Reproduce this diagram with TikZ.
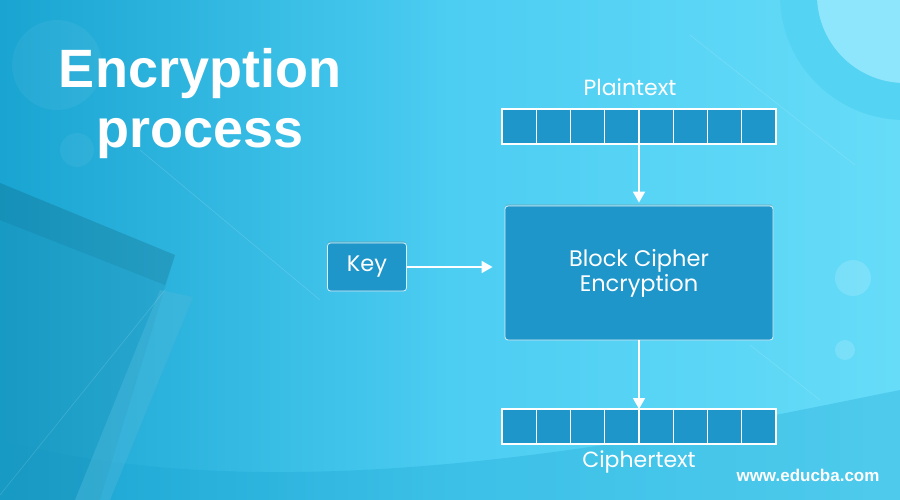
\documentclass[tikz,border=0pt]{standalone}
\usepackage{fontspec}
\setmainfont{Poppins}
\newfontfamily\headfont{Liberation Sans}
\usetikzlibrary{arrows.meta,shadows}
\definecolor{bgdark}{HTML}{19A4D1}
\definecolor{bgmid}{HTML}{4CCDF2}
\definecolor{bglight}{HTML}{66DCF8}
\definecolor{boxblue}{HTML}{1E96CA}
\definecolor{ringblue}{HTML}{55D3F3}
\definecolor{discblue}{HTML}{8EE6FD}
\tikzstyle{cell}=[draw=white,line width=1.2pt,fill=boxblue,minimum width=34.25pt,minimum height=35pt,inner sep=0pt,outer sep=0pt]
\tikzstyle{block}=[draw=white!85!boxblue,line width=0.8pt,fill=boxblue,rounded corners=3pt,text=white,align=center,font=\fontsize{22.5}{25}\selectfont,drop shadow={opacity=0.2,shadow xshift=0pt,shadow yshift=2pt}]
\tikzstyle{label}=[text=white,font=\fontsize{22}{25}\selectfont]
\tikzstyle{edge} = [draw=white,line width=1.8pt,-{Triangle[length=11pt,width=12pt]}]
\begin{document}
\begin{tikzpicture}[x=1pt,y=-1pt]
    \useasboundingbox (0,0) rectangle (900,500);
    % background and decoration
    \begin{scope}
    \clip (0,0) rectangle (900,500);
    \shade[left color=bgdark,right color=bglight,middle color=bgmid] (0,0) rectangle (900,500);
    \fill[bgdark,opacity=0.3] (0,500) -- (0,440) .. controls (300,520) and (700,430) .. (900,390) -- (900,500) -- cycle;
    \fill[ringblue] (905,-5) circle (125);
    \fill[discblue] (905,-5) circle (88);
    \fill[white,opacity=0.15] (853,278) circle (18);
    \fill[white,opacity=0.15] (845,350) circle (10);
    \fill[white,opacity=0.05] (57,65) circle (45);
    \fill[white,opacity=0.05] (77,150) circle (17);
    \fill[black!60!bgdark,opacity=0.1] (0,183) -- (175,255) -- (100,500) -- (0,500) -- cycle;
    \fill[black!60!bgdark,opacity=0.1] (0,183) -- (175,255) -- (165,285) -- (0,220) -- cycle;
    \fill[white!20!bgdark,opacity=0.5] (160,290) -- (193,297) -- (110,500) -- (75,500) -- cycle;
    \draw[white,opacity=0.15,line width=0.6pt] (140,150) -- (320,300);
    \draw[white,opacity=0.15,line width=0.6pt] (0,495) -- (165,290);
    \draw[white,opacity=0.15,line width=0.6pt] (690,35) -- (855,165);
    \draw[white,opacity=0.15,line width=0.6pt] (750,345) -- (820,400);
    \end{scope}

    % title and site name
    \node[text=white,align=center,font=\headfont\bfseries\fontsize{54}{60}\selectfont] (title) at (200,104) {Encryption\\process};
    \node[text=white,font=\headfont\bfseries\fontsize{17}{20}\selectfont] (site) at (808,475) {www.educba.com};

    % the two bars of cells
    \foreach \i in {1,...,8}
        \node[cell] (p\i) at ({502+34.25*(\i-0.5)},126.5) {};
    \foreach \i in {1,...,8}
        \node[cell] (c\i) at ({502+34.25*(\i-0.5)},426.5) {};
    \node[label,anchor=base] (plain) at (630,95.5) {Plaintext};
    \node[label,anchor=base] (cipher) at (639,467) {Ciphertext};

    % key and cipher block
    \node[block,minimum width=268pt,minimum height=134pt] (cipherbox) at (639,273) {Block Cipher\\Encryption};
    \node[block,minimum width=79pt,minimum height=48pt] (key) at (367,267) {Key};

    % connect them
    \path[edge,shorten >=3pt] (p4.south east) -- (cipherbox.north);
    \path[edge,shorten >=12pt] (key.east) -- (key.east -| cipherbox.west);
    \path[edge] (cipherbox.south) -- (c4.north east);
\end{tikzpicture}
\end{document}
